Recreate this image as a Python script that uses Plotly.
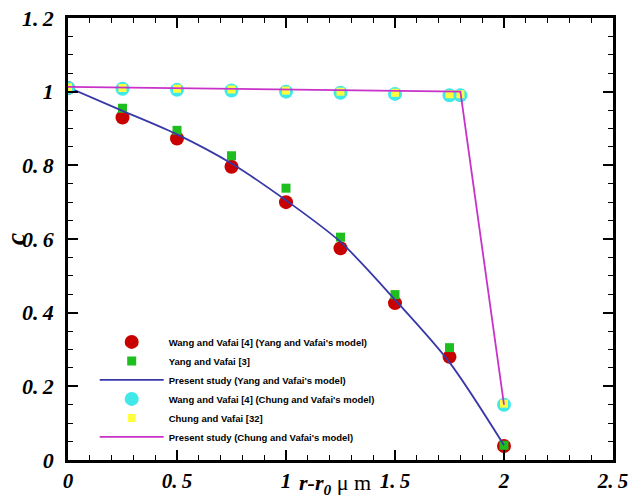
import plotly.graph_objects as go

# ---- data ----
x_yang = [0, 0.25, 0.5, 0.75, 1.0, 1.25, 1.5, 1.75, 2.0]
wang_yang = [1.01, 0.93, 0.873, 0.796, 0.70, 0.575, 0.426, 0.28, 0.038]
yang_vafai = [1.01, 0.955, 0.895, 0.826, 0.738, 0.605, 0.449, 0.305, 0.04]

x_line_yang = [0, 0.25, 0.5, 0.75, 1.0, 1.25, 1.5, 1.75, 2.0]
present_yang = [1.012, 0.948, 0.884, 0.805, 0.705, 0.592, 0.435, 0.265, 0.04]

x_chung = [0, 0.25, 0.5, 0.75, 1.0, 1.25, 1.5, 1.75, 1.8, 2.0]
wang_chung = [1.01, 1.008, 1.005, 1.003, 1.0, 0.997, 0.994, 0.99, 0.99, 0.15]
chung_vafai = [1.012, 1.01, 1.008, 1.006, 1.003, 1.0, 0.997, 0.993, 0.993, 0.153]

x_line_chung = [0, 1.8, 2.0]
present_chung = [1.013, 1.0, 0.15]

x_ticks = [0, 0.5, 1.0, 1.5, 2.0, 2.5]
x_tick_labels = ["0", "0.5", "1", "1.5", "2", "2.5"]
y_ticks = [0, 0.2, 0.4, 0.6, 0.8, 1.0, 1.2]
y_tick_labels = ["0", "0.2", "0.4", "0.6", "0.8", "1", "1.2"]

names = [
    "Wang and Vafai [4] (Yang and Vafai's model)",
    "Yang and Vafai [3]",
    "Present study (Yang and Vafai's model)",
    "Wang and Vafai [4] (Chung and Vafai's model)",
    "Chung and Vafai [32]",
    "Present study (Chung and Vafai's model)",
]

serif = "Liberation Serif, Times New Roman, serif"


def fmt(t):
    # Tecplot-style bold italic label with a thin gap after the decimal point
    return "<b><i>%s</i></b>" % t.replace(".", ".\u2009")


fig = go.Figure()
fig.add_trace(go.Scatter(x=x_yang, y=wang_yang, mode="markers", name=names[0],
                         marker=dict(symbol="circle", size=14, color="#C80000")))
fig.add_trace(go.Scatter(x=x_yang, y=yang_vafai, mode="markers", name=names[1],
                         marker=dict(symbol="square", size=9, color="#1EBE1E")))
fig.add_trace(go.Scatter(x=x_line_yang, y=present_yang, mode="lines", name=names[2],
                         line=dict(color="#3838A8", width=1.8, shape="spline", smoothing=0.8)))
fig.add_trace(go.Scatter(x=x_chung, y=wang_chung, mode="markers", name=names[3],
                         marker=dict(symbol="circle", size=14, color="#40E8E8")))
fig.add_trace(go.Scatter(x=x_chung, y=chung_vafai, mode="markers", name=names[4],
                         marker=dict(symbol="square", size=8, color="#FFFF40")))
fig.add_trace(go.Scatter(x=x_line_chung, y=present_chung, mode="lines", name=names[5],
                         line=dict(color="#C832C8", width=1.8)))

fig.update_xaxes(
    range=[0, 2.5], tickvals=x_ticks,
    ticktext=[fmt(t) for t in x_tick_labels],
    showline=True, linecolor="black", linewidth=2.5, mirror="ticks",
    ticks="inside", ticklen=10, tickwidth=2, tickcolor="black",
    minor=dict(ticks="inside", ticklen=5, tickwidth=1, dtick=0.1, tick0=0, tickcolor="black"),
    showgrid=False, zeroline=False,
    tickfont=dict(family=serif, size=21, color="black"), ticklabelstandoff=0,
    automargin=False,
)
fig.update_yaxes(
    range=[0, 1.2], tickvals=y_ticks,
    ticktext=[fmt(t) for t in y_tick_labels],
    showline=True, linecolor="black", linewidth=2.5, mirror="ticks",
    ticks="inside", ticklen=10, tickwidth=2, tickcolor="black",
    minor=dict(ticks="inside", ticklen=5, tickwidth=1, dtick=0.05, tick0=0, tickcolor="black"),
    showgrid=False, zeroline=False,
    tickfont=dict(family=serif, size=22, color="black"), ticklabelstandoff=7,
    title=dict(text="<b><i>c</i></b>", font=dict(family=serif, size=28, color="black"),
               standoff=0),
    automargin=False,
)

fig.add_annotation(
    xref="paper", yref="paper", x=0.49, y=-0.054, xanchor="center", yanchor="middle",
    text="<b><i>r-r<sub>0</sub></i></b> μ m", showarrow=False,
    font=dict(family=serif, size=22, color="black"),
)

fig.update_layout(
    width=629, height=499,
    margin=dict(l=68, r=16, t=18, b=39),
    plot_bgcolor="white", paper_bgcolor="white",
    showlegend=True,
    legend=dict(x=0.049, y=0.30, xanchor="left", yanchor="top",
                bgcolor="rgba(0,0,0,0)", borderwidth=0, itemwidth=64,
                font=dict(family="Liberation Sans, Arial, sans-serif",
                          size=9.5, color="black", weight="bold"),
                tracegroupgap=0),
)

fig.write_html("out.html")
